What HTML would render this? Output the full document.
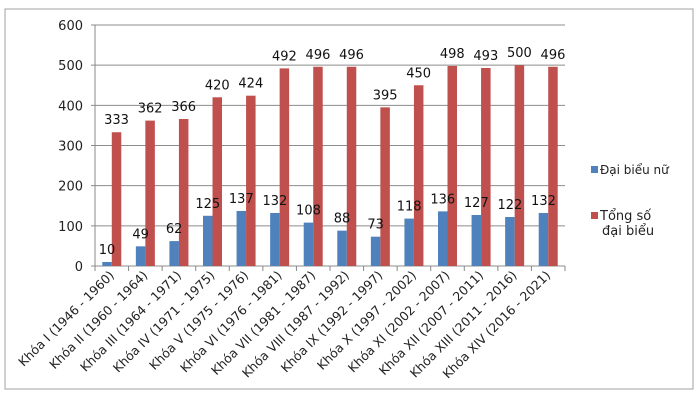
<!DOCTYPE html>
<html><head><meta charset="utf-8"><style>
body{margin:0;background:#fff;}
svg text{font-family:"DejaVu Sans","Liberation Sans",sans-serif;}
</style></head><body>
<svg id="c" width="700" height="400">
<rect x="5" y="9" width="688" height="380" fill="#fff" stroke="#a0a0a0"/>
<g id="g"></g>
<g>
<rect x="591" y="166" width="7" height="7" fill="#4f81bd"/>
<text x="600" y="174" font-size="12" fill="#222">Đại biểu nữ</text>
<rect x="591" y="212" width="7" height="7" fill="#c0504d"/>
<text x="600" y="220" font-size="13" fill="#222">Tổng  số</text>
<text x="602" y="235" font-size="13" fill="#222">đại biểu</text>
</g>
</svg>
<script>
const categories=["Khóa I (1946 - 1960)","Khóa II (1960 - 1964)","Khóa III (1964 - 1971)","Khóa IV (1971 - 1975)","Khóa V (1975 - 1976)","Khóa VI (1976 - 1981)","Khóa VII (1981 - 1987)","Khóa VIII (1987 - 1992)","Khóa IX (1992 - 1997)","Khóa X (1997 - 2002)","Khóa XI (2002 - 2007)","Khóa XII (2007 - 2011)","Khóa XIII (2011 - 2016)","Khóa XIV (2016 - 2021)"];
const female=[10,49,62,125,137,132,108,88,73,118,136,127,122,132];
const total=[333,362,366,420,424,492,496,496,395,450,498,493,500,496];
const yTicks=[0,100,200,300,400,500,600];
const NS="http://www.w3.org/2000/svg";
const g=document.getElementById("g");
const x0=95,x1=565,y0=266,yTop=25,yMax=600;
const y=v=>y0-(v/yMax)*(y0-yTop);
const cw=(x1-x0)/categories.length;
const xc=i=>x0+cw*i;
function mk(t,a){const e=document.createElementNS(NS,t);for(const k in a)e.setAttribute(k,a[k]);g.appendChild(e);return e;}
yTicks.forEach(v=>{
 let l=mk("line",{x1:x0-4,x2:x1,y1:y(v),y2:y(v),stroke:"#8c8c8c","stroke-width":1});
 
 
 let t=mk("text",{x:x0-12,y:y(v)+5,"text-anchor":"end","font-size":13,fill:"#222"});t.textContent=v;
 
 
});
mk("line",{x1:x0,x2:x0,y1:yTop,y2:y0,stroke:"#888"});
for(let i=0;i<=categories.length;i++){mk("line",{x1:xc(i),x2:xc(i),y1:y0,y2:y0+5,stroke:"#888"});}
const bw=9.5;
categories.forEach((c,i)=>{
 const cx=xc(i)+cw/2;
 let b=mk("rect",{x:cx-bw,y:y(female[i]),width:bw,height:y0-y(female[i]),fill:"#4f81bd"});
 
 
 let r=mk("rect",{x:cx,y:y(total[i]),width:bw,height:y0-y(total[i]),fill:"#c0504d"});
 
 
 let t1=mk("text",{x:cx-bw/2,y:y(female[i])-8,"text-anchor":"middle","font-size":13,fill:"#111"});t1.textContent=female[i];
 
 
 let t2=mk("text",{x:cx+bw/2,y:y(total[i])-8,"text-anchor":"middle","font-size":13,fill:"#111"});t2.textContent=total[i];
 
 
 let lab=mk("text",{x:cx+3,y:y0+10,"text-anchor":"end","font-size":12.5,fill:"#222",transform:`rotate(-45 ${cx+3} ${y0+10})`});lab.textContent=c;
 
 
});
</script>
</body></html>
